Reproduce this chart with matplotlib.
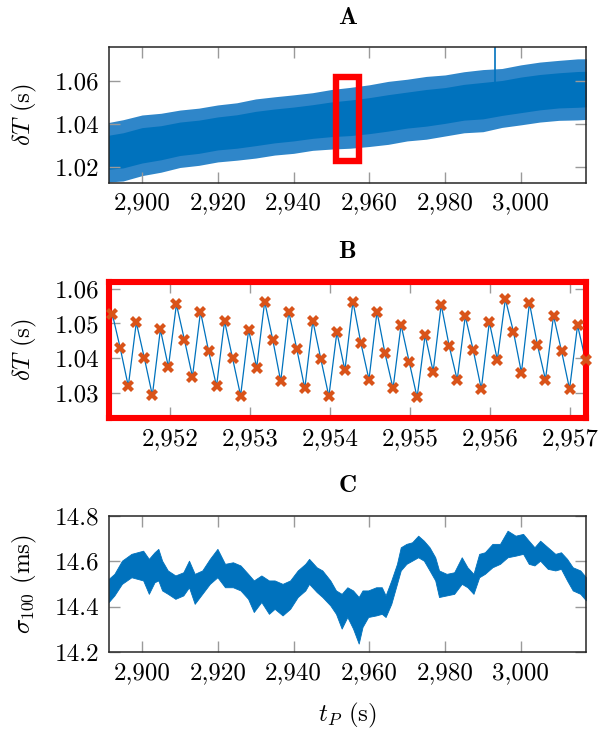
import numpy as np
import matplotlib
matplotlib.use("Agg")
import matplotlib.pyplot as plt
from matplotlib.patches import Rectangle
from matplotlib.ticker import FuncFormatter, FixedLocator

plt.rcParams['font.family'] = ['cmr10', 'DejaVu Serif']
plt.rcParams['mathtext.fontset'] = 'cm'
plt.rcParams['axes.formatter.use_mathtext'] = True
plt.rcParams['axes.unicode_minus'] = False

# ---------------- data ----------------
# Panel A: envelope of the dense delta-T signal
tA = [2890, 2895, 2900, 2905, 2910, 2915, 2920, 2925, 2930, 2935, 2940, 2945,
      2950, 2955, 2960, 2965, 2970, 2975, 2980, 2985, 2990, 2995, 3000, 3005,
      3010, 3015, 3020]
A_upper = [1.0404, 1.0421, 1.0443, 1.0451, 1.0466, 1.0475, 1.0490, 1.0500,
           1.0518, 1.0528, 1.0537, 1.0547, 1.0562, 1.0572, 1.0584, 1.0600,
           1.0610, 1.0623, 1.0630, 1.0645, 1.0655, 1.0660, 1.0677, 1.0690,
           1.0698, 1.0705, 1.0706]
A_lower = [1.0129, 1.0135, 1.0160, 1.0176, 1.0198, 1.0208, 1.0224, 1.0232,
           1.0242, 1.0256, 1.0264, 1.0278, 1.0284, 1.0288, 1.0296, 1.0306,
           1.0322, 1.0330, 1.0345, 1.0360, 1.0365, 1.0385, 1.0397, 1.0410,
           1.0418, 1.0420, 1.0425]
A_core_upper = [1.0345, 1.0360, 1.0384, 1.0393, 1.0410, 1.0419, 1.0434, 1.0444,
                1.0460, 1.0471, 1.0480, 1.0491, 1.0504, 1.0513, 1.0524, 1.0538,
                1.0550, 1.0562, 1.0571, 1.0586, 1.0595, 1.0604, 1.0620, 1.0632,
                1.0640, 1.0646, 1.0648]
A_core_lower = [1.0188, 1.0196, 1.0219, 1.0234, 1.0254, 1.0264, 1.0280, 1.0288,
                1.0300, 1.0313, 1.0322, 1.0334, 1.0342, 1.0347, 1.0356, 1.0368,
                1.0382, 1.0391, 1.0404, 1.0419, 1.0425, 1.0441, 1.0454, 1.0467,
                1.0476, 1.0479, 1.0484]
A_spike_t = [2993.2]
A_spike_lo = [1.058]
A_spike_hi = [1.082]

# Panel B: individual samples
B_t0 = 2951.174
B_dt = 0.10035
B_vals = [1.0325,
          1.0528, 1.0429, 1.0320, 1.0503, 1.0401, 1.0294, 1.0483, 1.0375, 1.0555, 1.0453,
          1.0347, 1.0534, 1.0422, 1.0320, 1.0507, 1.0400, 1.0293, 1.0482, 1.0373, 1.0563,
          1.0454, 1.0334, 1.0534, 1.0427, 1.0314, 1.0508, 1.0398, 1.0291, 1.0475, 1.0366,
          1.0563, 1.0443, 1.0339, 1.0534, 1.0414, 1.0314, 1.0496, 1.0391, 1.0288, 1.0467,
          1.0362, 1.0554, 1.0435, 1.0338, 1.0521, 1.0423, 1.0312, 1.0504, 1.0396, 1.0570,
          1.0477, 1.0359, 1.0559, 1.0438, 1.0339, 1.0522, 1.0421, 1.0312, 1.0495, 1.0394]

# Panel C: envelope of sigma_100 (ms)
tC = [2891.2, 2892.7, 2894.7, 2897.2, 2900.3, 2901.8, 2903.3, 2904.3, 2905.3, 2906.8,
      2908.8, 2910.9, 2912.4, 2913.9, 2915.9, 2917.9, 2919.9, 2921.9, 2924.0, 2926.0,
      2928.0, 2929.5, 2931.5, 2933.5, 2935.0, 2937.1, 2939.1, 2941.1, 2943.1, 2944.1,
      2946.1, 2947.6, 2949.7, 2951.2, 2952.7, 2954.2, 2955.7, 2957.2, 2958.2, 2959.7,
      2961.8, 2963.3, 2964.3, 2965.8, 2967.3, 2968.3, 2969.8, 2971.3, 2972.9, 2974.4,
      2975.9, 2977.4, 2978.4, 2980.4, 2982.4, 2984.4, 2985.9, 2987.5, 2989.0, 2990.5,
      2992.5, 2994.5, 2996.5, 2998.6, 3000.6, 3002.1, 3003.6, 3005.1, 3007.1, 3009.1,
      3010.6, 3012.2, 3013.7, 3015.7, 3017.2]
C_upper = [14.522, 14.544, 14.602, 14.632, 14.646, 14.610, 14.639, 14.654, 14.602, 14.559,
           14.537, 14.551, 14.602, 14.544, 14.559, 14.610, 14.654, 14.588, 14.595, 14.581,
           14.544, 14.515, 14.537, 14.515, 14.515, 14.500, 14.515, 14.559, 14.588, 14.610,
           14.573, 14.559, 14.515, 14.471, 14.456, 14.485, 14.471, 14.442, 14.471, 14.471,
           14.485, 14.485, 14.449, 14.515, 14.588, 14.661, 14.676, 14.683, 14.712, 14.690,
           14.661, 14.617, 14.559, 14.544, 14.551, 14.617, 14.573, 14.544, 14.632, 14.639,
           14.676, 14.676, 14.734, 14.712, 14.720, 14.690, 14.661, 14.690, 14.661, 14.632,
           14.639, 14.610, 14.573, 14.559, 14.529]
C_lower = [14.420, 14.449, 14.500, 14.529, 14.515, 14.456, 14.507, 14.515, 14.471, 14.456,
           14.434, 14.449, 14.485, 14.412, 14.456, 14.500, 14.529, 14.485, 14.485, 14.471,
           14.434, 14.376, 14.420, 14.368, 14.390, 14.361, 14.390, 14.442, 14.471, 14.500,
           14.464, 14.442, 14.405, 14.368, 14.303, 14.354, 14.303, 14.237, 14.310, 14.354,
           14.361, 14.368, 14.354, 14.412, 14.500, 14.559, 14.588, 14.602, 14.617, 14.602,
           14.559, 14.515, 14.442, 14.449, 14.456, 14.500, 14.485, 14.456, 14.529, 14.544,
           14.573, 14.588, 14.617, 14.624, 14.632, 14.588, 14.581, 14.602, 14.566, 14.559,
           14.566, 14.515, 14.471, 14.456, 14.427]

xlim_AC = (2891.2, 3017.2)
xlim_B = (2951.23, 2957.2)
ylim_A = (1.0127, 1.0759)
ylim_B = (1.0229, 1.0619)
ylim_C = (14.2, 14.8)
xticks_AC = [2900, 2920, 2940, 2960, 2980, 3000]
xticks_B = [2952, 2953, 2954, 2955, 2956, 2957]
yticks_A = [1.02, 1.04, 1.06]
yticks_B = [1.03, 1.04, 1.05, 1.06]
yticks_C = [14.2, 14.4, 14.6, 14.8]

BLUE = '#0072BD'
FRINGE = '#2f86c9'
ORANGE = '#D95319'
RED = '#FF0000'
FS = 18

fig = plt.figure(figsize=(5.99, 7.30), dpi=100)
L, R = 108.7 / 599, 586 / 599
W = R - L
def ax_at(top_px, bot_px):
    return fig.add_axes([L, 1 - bot_px / 730, W, (bot_px - top_px) / 730])

axA = ax_at(47.3, 182.7)
axB = ax_at(282, 418)
axC = ax_at(515.7, 652)

comma = FuncFormatter(lambda v, p: f"{v:,.0f}")

def style(ax, xt, yt, fmt_y):
    ax.xaxis.set_major_locator(FixedLocator(xt))
    ax.yaxis.set_major_locator(FixedLocator(yt))
    ax.xaxis.set_major_formatter(comma)
    ax.yaxis.set_major_formatter(FuncFormatter(lambda v, p: fmt_y.format(v)))
    ax.tick_params(direction='in', length=8, width=1.0, color='#9a9a9a',
                   top=True, right=True, labelsize=FS, pad=7)
    for s in ax.spines.values():
        s.set_color('#262626')
        s.set_linewidth(1.1)

# Panel A
axA.fill_between(tA, A_lower, A_upper, color=FRINGE, lw=0)
axA.fill_between(tA, A_core_lower, A_core_upper, color=BLUE, lw=0)
axA.vlines(A_spike_t, A_spike_lo, A_spike_hi, color=BLUE, lw=1.2)
axA.set_xlim(*xlim_AC)
axA.set_ylim(*ylim_A)
axA.add_patch(Rectangle((xlim_B[0], ylim_B[0]), xlim_B[1] - xlim_B[0],
                        ylim_B[1] - ylim_B[0], fill=False, edgecolor=RED, lw=4.6,
                        zorder=5))
style(axA, xticks_AC, yticks_A, "{:.2f}")

# Panel B
tB = B_t0 + B_dt * np.arange(len(B_vals))
vB = np.array(B_vals)
axB.plot(tB, vB, color=BLUE, lw=0.9, zorder=3)
inside = (tB >= xlim_B[0] - 0.01) & (tB <= xlim_B[1] + 0.01)
axB.plot(tB[inside], vB[inside], ls='none', marker='X', ms=8, mfc=ORANGE,
         mec=ORANGE, mew=0, clip_on=False, zorder=6)
axB.set_xlim(*xlim_B)
axB.set_ylim(*ylim_B)
style(axB, xticks_B, yticks_B, "{:.2f}")
for s in axB.spines.values():
    s.set_color(RED)
    s.set_linewidth(4.4)
    s.set_zorder(5)

# Panel C
axC.fill_between(tC, C_lower, C_upper, color=BLUE, lw=0.6, edgecolor=BLUE)
axC.set_xlim(*xlim_AC)
axC.set_ylim(*ylim_C)
style(axC, xticks_AC, yticks_C, "{:.1f}")

# titles
for ax, t in ((axA, 'A'), (axB, 'B'), (axC, 'C')):
    ax.set_title(t, fontfamily='cmb10', fontsize=FS, pad=17)

axA.set_ylabel(r'$\delta T$ (s)', fontsize=FS)
axB.set_ylabel(r'$\delta T$ (s)', fontsize=FS)
axC.set_ylabel(r'$\sigma_{100}$ (ms)', fontsize=FS)
for ax in (axA, axB, axC):
    ax.yaxis.label.set_verticalalignment('center')
    ax.yaxis.set_label_coords((24 - 108.7) / (586 - 108.7), 0.5)
axC.set_xlabel(r'$t_P$ (s)', fontsize=FS, labelpad=12)

fig.savefig('out.png', dpi=100)
